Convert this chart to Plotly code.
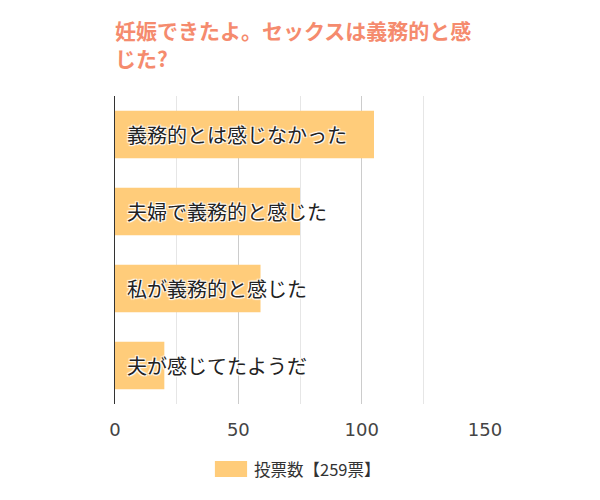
import plotly.graph_objects as go

# answers, top to bottom
answers = ['義務的とは感じなかった', '夫婦で義務的と感じた', '私が義務的と感じた', '夫が感じてたようだ']
votes = [105, 75, 59, 20]
series_name = '投票数【259票】'
title = '妊娠できたよ。セックスは義務的と感<br>じた?'

font = 'Noto Sans CJK JP'
bar_color = '#FFCC7A'

fig = go.Figure()
fig.add_trace(go.Bar(
    y=answers, x=votes, orientation='h', name=series_name,
    marker=dict(color=bar_color, line=dict(width=0)),
    width=0.62, hoverinfo='x+y', showlegend=False,
))

# labels start at the axis and run past the bar end
for a in answers:
    fig.add_annotation(
        x=0, y=a, text=a, showarrow=False, xanchor='left', xshift=10,
        font=dict(family=font, size=20, color='#222222',
                  shadow='1px 1px 1px #fff, -1px -1px 1px #fff, 1px -1px 1px #fff, -1px 1px 1px #fff'),
    )

# legend drawn by hand: wide swatch + label
fig.add_shape(type='rect', xref='paper', yref='paper', x0=0.27, x1=0.357, y0=-0.185, y1=-0.237,
              fillcolor=bar_color, line=dict(width=0))
fig.add_annotation(x=0.371, y=-0.211, xref='paper', yref='paper', text=series_name,
                   showarrow=False, xanchor='left', yanchor='middle',
                   font=dict(family=font, size=16.5, color='#333333'))

# page body adds 8px margin, so the figure is 16px smaller than the window
fig.update_layout(
    width=584, height=484,
    paper_bgcolor='white', plot_bgcolor='white',
    margin=dict(l=107, r=107, t=88, b=88),
    font=dict(family=font),
    showlegend=False,
    title=dict(text=title, x=0, xref='paper', xanchor='left', y=0.935, yref='container', yanchor='top',
               font=dict(family=font, size=21, color='#F58B6E', weight='bold')),
    xaxis=dict(range=[0, 150], dtick=50, showgrid=True, gridcolor='#CCCCCC', gridwidth=1,
               minor=dict(dtick=25, showgrid=True, gridcolor='#E6E6E6', gridwidth=1),
               tickfont=dict(family='DejaVu Sans', size=18, color='#444444'),
               zeroline=False, ticks='', ticklabelstandoff=13, fixedrange=True),
    yaxis=dict(autorange='reversed', showticklabels=False, showline=True, linecolor='#333333',
               linewidth=1, ticks='', showgrid=False, fixedrange=True),
)

fig.write_html('out.html')
